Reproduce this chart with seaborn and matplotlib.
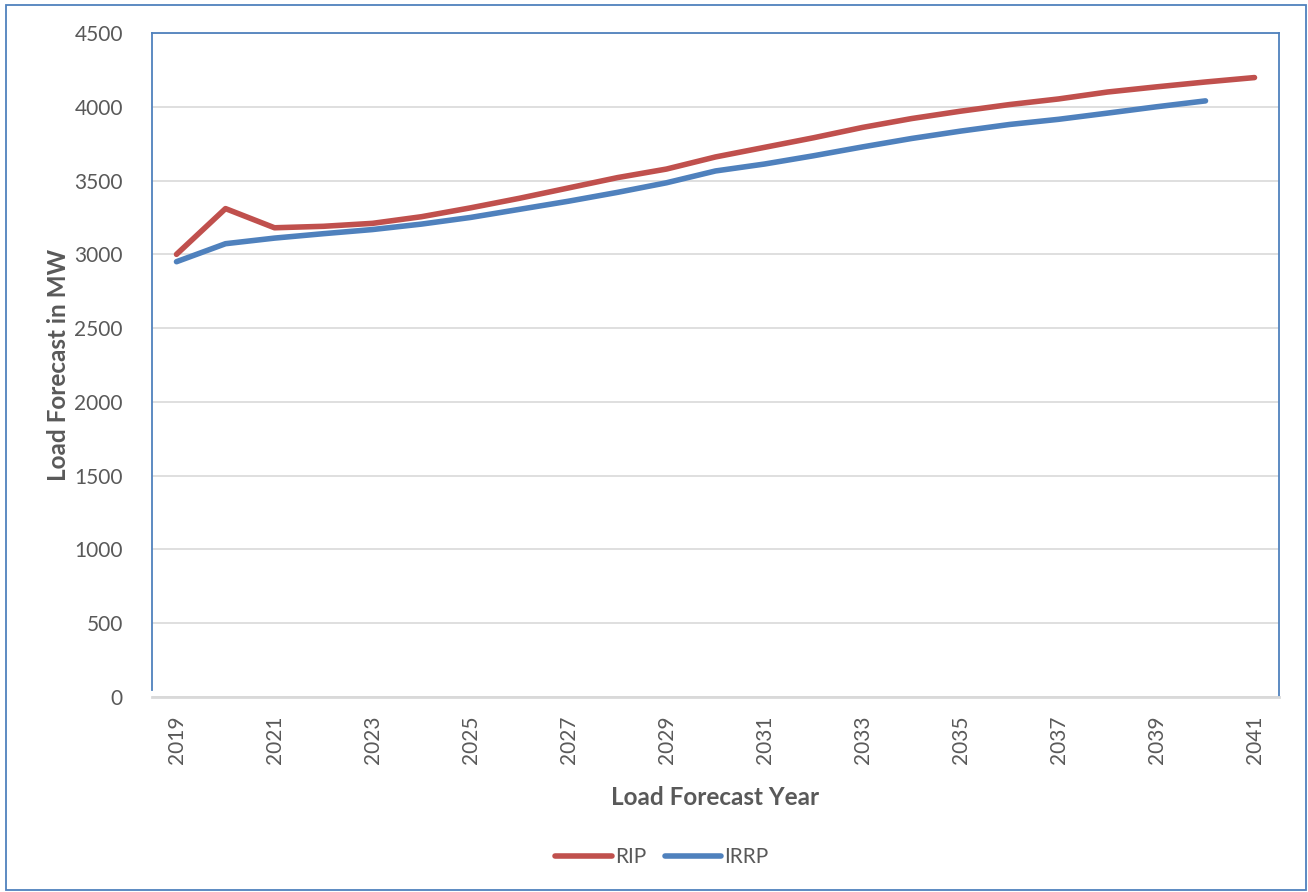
import matplotlib
matplotlib.use("Agg")
import matplotlib.pyplot as plt
from matplotlib.patches import Rectangle
import seaborn as sns
import pandas as pd
import numpy as np

years = list(range(2019, 2042))
rip = [3000, 3310, 3180, 3190, 3210, 3255, 3315, 3380, 3450, 3520, 3578,
       3660, 3725, 3790, 3860, 3920, 3970, 4015, 4053, 4100, 4135, 4168, 4198]
irrp_years = list(range(2019, 2041))
irrp = [2950, 3072, 3110, 3140, 3168, 3205, 3250, 3305, 3360, 3420, 3485,
        3565, 3612, 3668, 3728, 3785, 3835, 3880, 3915, 3957, 4000, 4040]
tick_years = list(range(2019, 2042, 2))

df = pd.concat([
    pd.DataFrame({"Year": years, "MW": rip, "Series": "RIP"}),
    pd.DataFrame({"Year": irrp_years, "MW": irrp, "Series": "IRRP"}),
])

sns.set_theme(style="white")
plt.rcParams['font.family'] = ['Lato', 'DejaVu Sans']

W, H = 1308, 892
fig = plt.figure(figsize=(W / 100, H / 100), dpi=100)
ax = fig.add_axes([152 / W, 1 - 697 / H, (1279 - 152) / W, (697 - 33) / H])

red = "#C0504D"
blue = "#4F81BD"
sns.lineplot(data=df, x="Year", y="MW", hue="Series", palette={"RIP": red, "IRRP": blue},
             linewidth=4, ax=ax, legend=True, solid_capstyle="round")

ax.set_xlim(2018.5, 2041.5)
ax.set_ylim(0, 4500)
ax.set_yticks(np.arange(0, 4501, 500))
ax.yaxis.grid(True, color="#D9D9D9", linewidth=1.2)
ax.xaxis.grid(False)
ax.set_axisbelow(True)

ax.set_xticks(tick_years)
ax.set_xticklabels([str(y) for y in tick_years], rotation=90)
ax.set_xticks(np.arange(2018.5, 2042, 1), minor=True)
ax.tick_params(axis="x", which="major", length=0, pad=13, labelsize=15, labelcolor="#595959")
ax.tick_params(axis="x", which="minor", length=15, width=1.5, direction="inout", color="#D9D9D9")
ax.tick_params(axis="y", which="major", length=0, pad=21, labelsize=15, labelcolor="#595959")

for s in ["left", "top", "right"]:
    ax.spines[s].set_color(blue)
    ax.spines[s].set_linewidth(1.3)
ax.spines["left"].set_bounds(48, 4500)
ax.spines["bottom"].set_color("#D9D9D9")
ax.spines["bottom"].set_linewidth(2)

ax.set_xlabel("Load Forecast Year", fontsize=17.5, fontweight="bold", color="#595959", labelpad=16)
ax.set_ylabel("Load Forecast in MW", fontsize=17.5, fontweight="bold", color="#595959", labelpad=3)

handles, labels = ax.get_legend_handles_labels()
ax.get_legend().remove()
leg = fig.legend(handles, labels, loc="center", bbox_to_anchor=(0.506, 1 - 857 / H), ncol=2,
                 frameon=False, fontsize=15, handlelength=2.7, handletextpad=0.15, columnspacing=0.9)
for t in leg.get_texts():
    t.set_color("#595959")
for l in leg.get_lines():
    l.set_linewidth(4)
    l.set_solid_capstyle("round")

fig.patches.append(Rectangle((6 / W, 2 / H), (1306 - 6) / W, (887 - 2) / H, transform=fig.transFigure,
                             fill=False, edgecolor=blue, linewidth=1.3))

fig.savefig("out.png", dpi=100)
